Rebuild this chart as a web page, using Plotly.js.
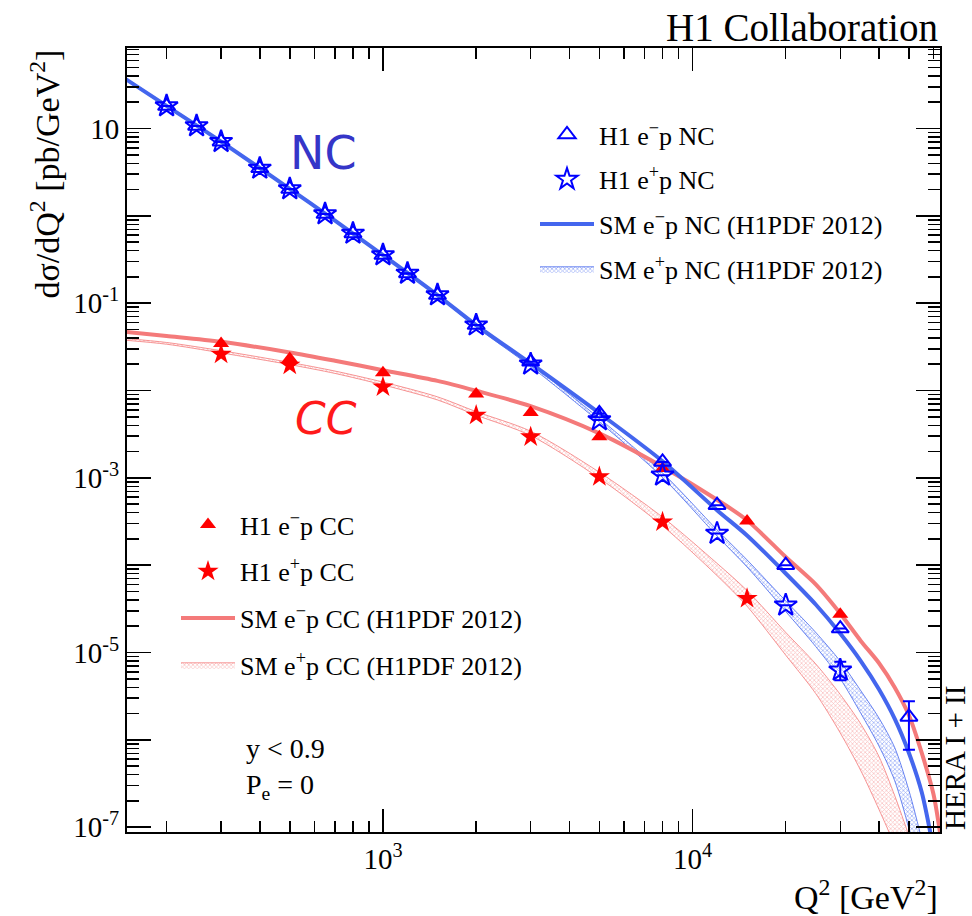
<!DOCTYPE html>
<html>
<head>
<meta charset="utf-8">
<script src="https://cdn.plot.ly/plotly-3.0.1.min.js"></script>
<style>html,body{margin:0;padding:0;background:#fff;}</style>
</head>
<body>
<div id="chart" style="width:972px;height:916px;"></div>
<script>
// ---------- data ----------
const q2NC = [200, 250, 300, 400, 500, 650, 800, 1000, 1200, 1500, 2000, 3000, 5000, 8000, 12000, 20000, 30000, 50000];
const ncEm = [18.1, 10.7, 7.06, 3.50, 2.03, 1.05, 0.63, 0.356, 0.219, 0.124, 0.0561, 0.0213, 5.47e-3, 1.52e-3, 4.86e-4, 1.0e-4, 1.88e-5, 1.83e-6];
const ncEmErrUp = [0,0,0,0,0,0,0,0,0,0,0,0,0,0,0,0,0,0.94e-6];
const ncEmErrDn = [0,0,0,0,0,0,0,0,0,0,0,0,0,0,0,0,0,1.06e-6];
const ncEp = [18.1, 10.7, 7.06, 3.50, 2.03, 1.05, 0.63, 0.356, 0.219, 0.124, 0.0561, 0.0200, 4.6e-3, 1.07e-3, 2.31e-4, 3.48e-5, 6.26e-6, null];
const ncEpErrUp = [0,0,0,0,0,0,0,0,0,0,0,0,0,0,0,0,1.57e-6,0];
const ncEpErrDn = [0,0,0,0,0,0,0,0,0,0,0,0,0,0,0,0,1.44e-6,0];

const q2CC = [300, 500, 1000, 2000, 3000, 5000, 8000, 15000, 30000];
const ccEm = [0.0346, 0.0233, 0.0160, 9.1e-3, 5.61e-3, 2.95e-3, 1.28e-3, 3.21e-4, 2.75e-5];
const ccEp = [0.0261, 0.0195, 0.0110, 5.22e-3, 2.95e-3, 1.03e-3, 3.13e-4, 4.15e-5, null];

// SM predictions (H1PDF 2012)
const q2Curve = [148, 200, 300, 500, 700, 1000, 1500, 2000, 3000, 5000, 8000, 12000, 15000, 20000, 25000, 30000, 35000, 40000, 45000, 50000, 55000, 60000, 63000];
const smNcEm = [36.6, 18.2, 7.08, 2.04, 0.881, 0.356, 0.124, 0.0562, 0.0204, 5.50e-3, 1.55e-3, 4.27e-4, 2.19e-4, 8.04e-5, 3.55e-5, 1.65e-5, 7.94e-6, 3.80e-6, 1.74e-6, 7.08e-7, 2.51e-7, 5.6e-8, 2.0e-8];
const smNcEpLo = [35.8, 17.7, 6.90, 1.98, 0.851, 0.348, 0.120, 0.0533, 0.0188, 4.37e-3, 1.01e-3, 2.16e-4, 9.55e-5, 2.95e-5, 1.17e-5, 5.01e-6, 2.00e-6, 8.51e-7, 3.39e-7, 9.55e-8, 2.19e-8, 5e-9, 3e-9];
const smNcEpHi = [37.5, 18.5, 7.23, 2.07, 0.891, 0.364, 0.126, 0.0566, 0.0202, 4.79e-3, 1.14e-3, 2.54e-4, 1.15e-4, 3.89e-5, 1.70e-5, 7.94e-6, 3.63e-6, 1.78e-6, 8.13e-7, 2.63e-7, 7.24e-8, 2e-8, 1e-8];
const smCcEm = [0.0470, 0.0421, 0.0361, 0.0273, 0.0219, 0.0171, 0.0129, 9.93e-3, 6.62e-3, 3.23e-3, 1.34e-3, 5.62e-4, 3.27e-4, 1.24e-4, 6.03e-5, 2.80e-5, 1.35e-5, 7.59e-6, 3.98e-6, 1.91e-6, 7.08e-7, 2.40e-7, 8.7e-8];
const smCcEpLo = [0.0376, 0.0339, 0.0270, 0.0198, 0.0157, 0.0116, 7.80e-3, 5.22e-3, 3.05e-3, 9.89e-4, 2.82e-4, 7.59e-5, 3.39e-5, 9.33e-6, 3.39e-6, 1.20e-6, 4.4e-7, 1.6e-7, 6.0e-8, 1.6e-8, 3.5e-9, 1e-9, 5e-10];
const smCcEpHi = [0.0394, 0.0355, 0.0286, 0.0210, 0.0167, 0.0125, 8.47e-3, 5.73e-3, 3.42e-3, 1.16e-3, 3.55e-4, 1.05e-4, 5.13e-5, 1.70e-5, 7.41e-6, 3.31e-6, 1.51e-6, 6.46e-7, 2.29e-7, 7.94e-8, 2.8e-8, 1e-8, 5e-9];

// axis tick labels
const xTickVals = [1000, 10000];
const xTickText = ['10<sup>3</sup>', '10<sup>4</sup>'];
const yTickVals = [1e-7, 1e-6, 1e-5, 1e-4, 1e-3, 1e-2, 1e-1, 1, 10];
const yTickText = ['10<sup>-7</sup>', '', '10<sup>-5</sup>', '', '10<sup>-3</sup>', '', '10<sup>-1</sup>', '', '10'];

// ---------- styling ----------
const SERIF = 'Liberation Serif';
const BLUE = '#0000ff', RED = '#ff0000';
const SMBLUE = '#4466ee', SMRED = '#f47a7a';

function minorLog(lo, hi) {
  const v = [];
  for (let e = lo; e <= hi; e++) for (let m = 2; m <= 9; m++) v.push(m * Math.pow(10, e));
  return v;
}

const spl = (c, w) => ({color: c, width: w, shape: 'spline', smoothing: 0.8});

const traces = [
  // CC e+p band
  {x: q2Curve, y: smCcEpLo, mode: 'lines', line: spl(SMRED, 0.8), legend: 'legend2', legendgroup: 'ccband', showlegend: false, hoverinfo: 'skip'},
  {x: q2Curve, y: smCcEpHi, mode: 'lines', fill: 'tonexty', line: spl(SMRED, 0.8),
   fillcolor: 'rgba(244,122,122,0.38)', fillpattern: {shape: 'x', size: 3, solidity: 0.4, fgcolor: SMRED, bgcolor: 'rgba(255,255,255,0)', fillmode: 'overlay'},
   name: 'SM e<sup>+</sup>p CC (H1PDF 2012)', legend: 'legend2', legendgroup: 'ccband', legendrank: 4},
  // NC e+p band
  {x: q2Curve, y: smNcEpLo, mode: 'lines', line: spl(SMBLUE, 0.8), legend: 'legend', legendgroup: 'ncband', showlegend: false, hoverinfo: 'skip'},
  {x: q2Curve, y: smNcEpHi, mode: 'lines', fill: 'tonexty', line: spl(SMBLUE, 0.8),
   fillcolor: 'rgba(68,102,238,0.55)', fillpattern: {shape: 'x', size: 3, solidity: 0.45, fgcolor: SMBLUE, bgcolor: 'rgba(255,255,255,0)', fillmode: 'overlay'},
   name: 'SM e<sup>+</sup>p NC (H1PDF 2012)', legend: 'legend', legendgroup: 'ncband', legendrank: 4},
  // SM e-p lines
  {x: q2Curve, y: smCcEm, mode: 'lines', line: spl(SMRED, 4), name: 'SM e<sup>−</sup>p CC (H1PDF 2012)', legend: 'legend2', legendgroup: 'ccline', legendrank: 3},
  {x: q2Curve, y: smNcEm, mode: 'lines', line: spl(SMBLUE, 4), name: 'SM e<sup>−</sup>p NC (H1PDF 2012)', legend: 'legend', legendgroup: 'ncline', legendrank: 3},
  // data CC
  {x: q2CC, y: ccEm, mode: 'markers', marker: {symbol: 'triangle-up', size: 14, color: RED}, name: 'H1 e<sup>−</sup>p CC', legend: 'legend2', legendgroup: 'ccem', legendrank: 1},
  {x: q2CC, y: ccEp, mode: 'markers', marker: {symbol: 'star', size: 16, color: RED}, name: 'H1 e<sup>+</sup>p CC', legend: 'legend2', legendgroup: 'ccep', legendrank: 2},
  // data NC
  {x: q2NC, y: ncEm, mode: 'markers', marker: {symbol: 'triangle-up-open', size: 15, color: BLUE, line: {width: 2, color: BLUE}},
   error_y: {type: 'data', symmetric: false, array: ncEmErrUp, arrayminus: ncEmErrDn, color: BLUE, thickness: 2, width: 6},
   name: 'H1 e<sup>−</sup>p NC', legend: 'legend', legendgroup: 'ncem', legendrank: 1},
  {x: q2NC, y: ncEp, mode: 'markers', marker: {symbol: 'star-open', size: 17, color: BLUE, line: {width: 2, color: BLUE}},
   error_y: {type: 'data', symmetric: false, array: ncEpErrUp, arrayminus: ncEpErrDn, color: BLUE, thickness: 2, width: 6},
   name: 'H1 e<sup>+</sup>p NC', legend: 'legend', legendgroup: 'ncep', legendrank: 2}
];

const PL = 127, PR = 940, PT = 48, PB = 832;
const px = v => (v - PL) / (PR - PL);
const py = v => (PB - v) / (PB - PT);

const axisCommon = {
  type: 'log', showgrid: false, zeroline: false, showline: true, linecolor: '#000', linewidth: 2,
  mirror: 'allticks', ticks: 'inside', tickcolor: '#000', tickwidth: 1.5,
  tickfont: {family: SERIF, size: 29, color: '#000'}, tickmode: 'array'
};

const layout = {
  width: 972, height: 916,
  margin: {l: PL, r: 972 - PR, t: PT, b: 916 - PB},
  paper_bgcolor: '#fff', plot_bgcolor: '#fff',
  font: {family: SERIF, color: '#000'},
  xaxis: Object.assign({}, axisCommon, {
    range: [Math.log10(149), Math.log10(63000)],
    tickvals: xTickVals, ticktext: xTickText, ticklen: 23,
    minor: {tickmode: 'array', tickvals: minorLog(2, 4), ticks: 'inside', ticklen: 11, tickwidth: 1.5, tickcolor: '#000', showgrid: false}
  }),
  yaxis: Object.assign({}, axisCommon, {
    range: [-7.055, 1.922],
    tickvals: yTickVals, ticktext: yTickText, ticklen: 24,
    minor: {tickmode: 'array', tickvals: minorLog(-8, 1), ticks: 'inside', ticklen: 12, tickwidth: 1.5, tickcolor: '#000', showgrid: false}
  }),
  showlegend: true,
  legend: {x: px(535), y: py(111), xanchor: 'left', yanchor: 'top', bgcolor: 'rgba(0,0,0,0)',
           font: {family: SERIF, size: 26, color: '#000'}, traceorder: 'grouped', tracegroupgap: 8, itemwidth: 54},
  legend2: {x: px(176), y: py(501), xanchor: 'left', yanchor: 'top', bgcolor: 'rgba(0,0,0,0)',
           font: {family: SERIF, size: 26, color: '#000'}, traceorder: 'grouped', tracegroupgap: 10, itemwidth: 54},
  annotations: [
    {xref: 'paper', yref: 'paper', x: px(940), y: py(27), xanchor: 'right', yanchor: 'middle', showarrow: false,
     text: 'H1 Collaboration', font: {family: SERIF, size: 39, color: '#000'}},
    {xref: 'paper', yref: 'paper', x: px(940), y: py(895), xanchor: 'right', yanchor: 'middle', showarrow: false,
     text: 'Q<sup>2</sup> [GeV<sup>2</sup>]', font: {family: SERIF, size: 34, color: '#000'}},
    {xref: 'paper', yref: 'paper', x: px(44), y: py(48), xanchor: 'center', yanchor: 'top', showarrow: false, textangle: -90,
     text: 'dσ/dQ<sup>2</sup> [pb/GeV<sup>2</sup>]', font: {family: SERIF, size: 34, color: '#000'}},
    {xref: 'paper', yref: 'paper', x: px(955), y: py(832), xanchor: 'center', yanchor: 'bottom', showarrow: false, textangle: -90,
     text: 'HERA I + II', font: {family: SERIF, size: 29, color: '#000'}},
    {xref: 'paper', yref: 'paper', x: px(323), y: py(153), xanchor: 'center', yanchor: 'middle', showarrow: false,
     text: 'NC', font: {family: 'DejaVu Sans', size: 46, color: '#3535c8'}},
    {xref: 'paper', yref: 'paper', x: px(326), y: py(418), xanchor: 'center', yanchor: 'middle', showarrow: false,
     text: '<i>CC</i>', font: {family: 'DejaVu Sans', size: 44, color: '#ff1a1a'}},
    {xref: 'paper', yref: 'paper', x: px(244), y: py(748), xanchor: 'left', yanchor: 'middle', showarrow: false,
     text: 'y &lt; 0.9', font: {family: SERIF, size: 28, color: '#000'}},
    {xref: 'paper', yref: 'paper', x: px(244), y: py(786), xanchor: 'left', yanchor: 'middle', showarrow: false,
     text: 'P<sub>e</sub> = 0', font: {family: SERIF, size: 28, color: '#000'}}
  ]
};

Plotly.newPlot('chart', traces, layout, {staticPlot: true, displayModeBar: false});
</script>
</body>
</html>
